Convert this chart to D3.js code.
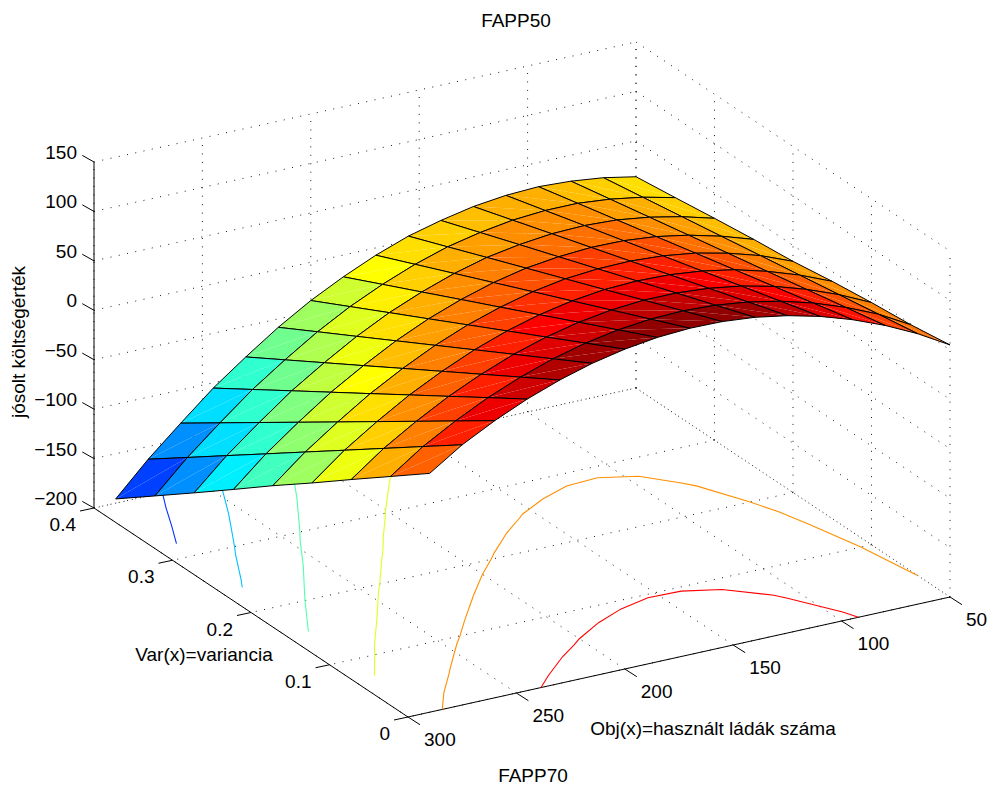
<!DOCTYPE html>
<html>
<head>
<meta charset="utf-8">
<script src="https://cdn.jsdelivr.net/npm/d3@7"></script>
<style>
html,body{margin:0;padding:0;background:#fff;}
svg{display:block;}
text{font-family:"Liberation Sans",Arial,sans-serif;fill:#000;}
</style>
</head>
<body>
<svg id="chart" width="991" height="787"></svg>
<script>
// ---- data ----
const title = "FAPP50";
const bottomLabel = "FAPP70";
const xLabel = "Obj(x)=használt ládák száma";
const yLabel = "Var(x)=variancia";
const zLabel = "jósolt költségérték";

const xTicks = [50, 100, 150, 200, 250, 300];
const yTicks = [0, 0.1, 0.2, 0.3, 0.4];
const zTicks = [-200, -150, -100, -50, 0, 50, 100, 150];
const yTickLabels = ["0", "0.1", "0.2", "0.3", "0.4"];
const zTickLabels = ["\u2212200", "\u2212150", "\u2212100", "\u221250", "0", "50", "100", "150"];

const gridX = [50, 65, 80, 95, 110, 125, 140, 155, 170, 185, 200, 215, 230, 245, 260, 275, 290];
const gridY = [0, 0.05, 0.1, 0.15, 0.2, 0.25, 0.3, 0.35, 0.4];
// one row per gridX, one column per gridY
const gridZ = [
  [55.0, 49.0, 45.0, 40.0, 33.8, 29.6, 24.5, 19.0, 13.7],
  [73.7, 67.0, 60.3, 53.6, 46.9, 40.1, 33.4, 26.7, 20.0],
  [89.3, 81.1, 72.9, 64.7, 56.6, 48.4, 40.2, 32.0, 23.8],
  [102.4, 92.8, 83.2, 73.6, 64.0, 54.3, 44.7, 35.1, 25.5],
  [113.0, 101.9, 90.8, 79.6, 68.5, 57.4, 46.3, 35.1, 24.0],
  [121.0, 108.4, 95.8, 83.1, 70.5, 57.9, 45.3, 32.6, 20.0],
  [126.6, 112.4, 98.3, 84.1, 69.9, 55.7, 41.6, 27.4, 13.2],
  [129.6, 114.0, 98.4, 82.7, 67.1, 51.5, 35.9, 20.2, 4.6],
  [130.1, 112.9, 95.7, 78.5, 61.4, 44.2, 27.0, 9.8, -7.4],
  [128.1, 109.3, 90.6, 71.8, 53.0, 34.3, 15.5, -3.2, -22.0],
  [123.5, 103.2, 82.9, 62.7, 42.4, 22.1, 1.9, -18.4, -38.7],
  [116.5, 94.6, 72.8, 50.9, 29.0, 7.1, -14.8, -36.6, -58.5],
  [106.9, 83.4, 59.9, 36.4, 12.9, -10.7, -34.2, -57.7, -81.2],
  [94.9, 69.9, 44.8, 19.8, -5.3, -30.3, -55.3, -80.4, -105.4],
  [80.3, 53.6, 26.8, 0.1, -26.7, -53.4, -80.1, -106.9, -133.6],
  [63.2, 35.0, 6.7, -21.6, -49.8, -78.1, -106.3, -134.6, -162.8],
  [41.6, 12.0, -17.5, -47.4, -76.6, -106.8, -136.7, -166.2, -195.7]
];
const contourLevels = [-150, -100, -50, 0, 50, 100];

// ---- projection, built from linear scales ----
const originX = 408, originY = 717;
const sxFromX = d3.scaleLinear().domain([300, 50]).range([0, 542]);
const syFromX = d3.scaleLinear().domain([300, 50]).range([0, -120]);
const sxFromY = d3.scaleLinear().domain([0, 0.4]).range([0, -314]);
const syFromY = d3.scaleLinear().domain([0, 0.4]).range([0, -209]);
const syFromZ = d3.scaleLinear().domain([-200, 150]).range([0, -346]);
const project = (x, y, z) => [
  originX + sxFromX(x) + sxFromY(y),
  originY + syFromX(x) + syFromY(y) + syFromZ(z)
];

const zMin = d3.min(gridZ, r => d3.min(r));
const zMax = d3.max(gridZ, r => d3.max(r));
const jet = d3.scaleLinear()
  .domain([0, 0.125, 0.375, 0.625, 0.875, 1])
  .range(["rgb(0,0,128)", "rgb(0,0,255)", "rgb(0,255,255)", "rgb(255,255,0)", "rgb(255,0,0)", "rgb(128,0,0)"]);
const zToIndex = d3.scaleLinear().domain([zMin, zMax]).range([0, 64]);
const colorOf = z => jet(Math.min(63, Math.floor(zToIndex(z))) / 64);
const levelToJet = d3.scaleLinear().domain([-150, 100]).range([0.175, 0.875]);
const contourColor = level => jet(levelToJet(level));

const svg = d3.select("#chart");
const line = d3.line();
const closed = d3.line().curve(d3.curveLinearClosed);

// ---- dotted grid ----
const xMin = xTicks[0], xMax = xTicks[xTicks.length - 1];
const yMin = yTicks[0], yMax = yTicks[yTicks.length - 1];
const zLo = zTicks[0], zHi = zTicks[zTicks.length - 1];
const gridSegs = [];
xTicks.forEach(x => {
  gridSegs.push([project(x, yMin, zLo), project(x, yMax, zLo)]);
  gridSegs.push([project(x, yMax, zLo), project(x, yMax, zHi)]);
});
yTicks.forEach(y => {
  gridSegs.push([project(xMin, y, zLo), project(xMax, y, zLo)]);
  gridSegs.push([project(xMin, y, zLo), project(xMin, y, zHi)]);
});
zTicks.forEach(z => {
  gridSegs.push([project(xMax, yMax, z), project(xMin, yMax, z)]);
  gridSegs.push([project(xMin, yMax, z), project(xMin, yMin, z)]);
});
svg.append("g").attr("fill", "none").attr("stroke", "#000").attr("stroke-width", 0.9)
  .attr("stroke-dasharray", "1 7.45")
  .selectAll("path").data(gridSegs).join("path").attr("d", line);

// ---- axes ----
const axisSegs = [
  [project(xMax, yMin, zLo), project(xMin, yMin, zLo)],
  [project(xMax, yMin, zLo), project(xMax, yMax, zLo)],
  [project(xMax, yMax, zLo), project(xMax, yMax, zHi)]
];
const tickSeg = (p, dx, dy) => [p, [p[0] + dx, p[1] + dy]];
xTicks.forEach(x => axisSegs.push(tickSeg(project(x, yMin, zLo), 12, 7.7)));
yTicks.forEach(y => axisSegs.push(tickSeg(project(xMax, y, zLo), -14, 3)));
zTicks.forEach(z => axisSegs.push(tickSeg(project(xMax, yMax, z), -11.7, -6.6)));
svg.append("g").attr("fill", "none").attr("stroke", "#000").attr("stroke-width", 1)
  .selectAll("path").data(axisSegs).join("path").attr("d", line);

// ---- contours on the floor ----
const flat = [];
gridY.forEach((_, j) => gridX.forEach((_, i) => flat.push(gridZ[i][j])));
const nx = gridX.length, ny = gridY.length;
const contourX = d3.scaleLinear().domain([0.5, nx - 0.5]).range([gridX[0], gridX[nx - 1]]);
const contourY = d3.scaleLinear().domain([0.5, ny - 0.5]).range([gridY[0], gridY[ny - 1]]);
const inside = p => p[0] >= 0.499 && p[0] <= nx - 0.499 && p[1] >= 0.499 && p[1] <= ny - 0.499;
const contourRuns = [];
d3.contours().size([nx, ny]).thresholds(contourLevels)(flat).forEach(c => {
  c.coordinates.forEach(poly => poly.forEach(ring => {
    const pts = ring.slice(0, ring.length - 1);
    const start = pts.findIndex(p => !inside(p));
    if (start < 0) { contourRuns.push({ level: c.value, pts: ring }); return; }
    let run = [];
    for (let k = 0; k <= pts.length; k++) {
      const p = pts[(start + k) % pts.length];
      if (inside(p)) run.push(p);
      else { if (run.length > 1) contourRuns.push({ level: c.value, pts: run }); run = []; }
    }
  }));
});
svg.append("g").attr("fill", "none").attr("stroke-width", 1.1)
  .selectAll("path").data(contourRuns).join("path")
  .attr("stroke", d => contourColor(d.level))
  .attr("d", d => line(d.pts.map(p => project(contourX(p[0]), contourY(p[1]), zLo))));

// ---- surface, painted from back to front ----
const cells = [];
d3.range(nx - 1).forEach(i => {
  d3.range(ny - 2, -1, -1).forEach(j => {
    const a = project(gridX[i], gridY[j], gridZ[i][j]);
    const b = project(gridX[i + 1], gridY[j], gridZ[i + 1][j]);
    const c = project(gridX[i + 1], gridY[j + 1], gridZ[i + 1][j + 1]);
    const d = project(gridX[i], gridY[j + 1], gridZ[i][j + 1]);
    cells.push({ a, b, c, d, color: colorOf(gridZ[i][j]) });
  });
});
const cell = svg.append("g").selectAll("g").data(cells).join("g");
cell.append("path").attr("fill", d => d.color).attr("d", d => closed([d.a, d.b, d.c]));
cell.append("path").attr("fill", d => d.color).attr("d", d => closed([d.a, d.c, d.d]));
cell.append("path").attr("fill", "none").attr("stroke", "#000").attr("stroke-width", 1)
  .attr("stroke-linejoin", "round").attr("d", d => closed([d.a, d.b, d.c, d.d]));

// ---- text ----
const labels = svg.append("g").attr("font-size", 19);
labels.selectAll(".xt").data(xTicks).join("text").attr("class", "xt")
  .attr("x", d => project(d, yMin, zLo)[0] + 16)
  .attr("y", d => project(d, yMin, zLo)[1] + 29)
  .text(d => d);
labels.selectAll(".yt").data(yTicks).join("text").attr("class", "yt")
  .attr("text-anchor", "end")
  .attr("x", d => project(xMax, d, zLo)[0] - 18)
  .attr("y", d => project(xMax, d, zLo)[1] + 23)
  .text((d, i) => yTickLabels[i]);
labels.selectAll(".zt").data(zTicks).join("text").attr("class", "zt")
  .attr("text-anchor", "end")
  .attr("x", d => project(xMax, yMax, d)[0] - 17)
  .attr("y", d => project(xMax, yMax, d)[1] - 3)
  .text((d, i) => zTickLabels[i]);
labels.append("text").attr("text-anchor", "middle").attr("x", 516).attr("y", 27).text(title);
labels.append("text").attr("text-anchor", "middle").attr("x", 533).attr("y", 782).text(bottomLabel);
labels.append("text").attr("text-anchor", "middle").attr("x", 713).attr("y", 735).text(xLabel);
labels.append("text").attr("text-anchor", "middle").attr("x", 204).attr("y", 661).text(yLabel);
labels.append("text").attr("text-anchor", "middle")
  .attr("transform", "translate(25,342) rotate(-90)").text(zLabel);
</script>
</body>
</html>
